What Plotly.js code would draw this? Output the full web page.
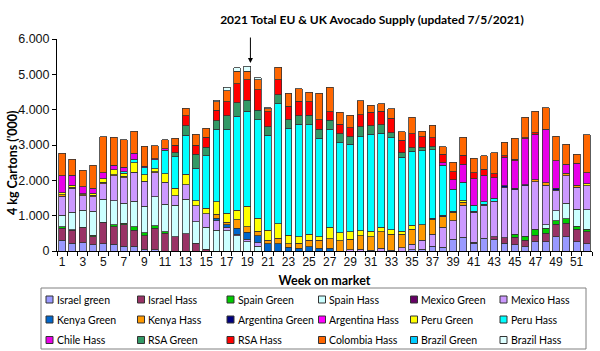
<!DOCTYPE html>
<html><head><meta charset="utf-8">
<script src="https://cdn.plot.ly/plotly-3.0.1.min.js"></script>
<style>html,body{margin:0;padding:0;background:#fff}#chart{width:600px;height:351px}</style>
</head><body><div id="chart"></div>
<script>
const weeks = [1,2,3,4,5,6,7,8,9,10,11,12,13,14,15,16,17,18,19,20,21,22,23,24,25,26,27,28,29,30,31,32,33,34,35,36,37,38,39,40,41,42,43,44,45,46,47,48,49,50,51,52];

const seriesNames = ['Israel green','Israel Hass','Spain Green','Spain Hass','Mexico Green','Mexico Hass','Kenya Green','Kenya Hass','Argentina Green','Argentina Hass','Peru Green','Peru Hass','Chile Hass','RSA Green','RSA Hass','Colombia Hass','Brazil Green','Brazil Hass'];

const israelGreen = [300,220,230,170,210,190,140,140,50,30, 0,0,0,0,0,0,0,0,0,0, 0,0,0,0,0,0,0,0,0,0, 0,0,0,0,30,50,140,100,330,390, 220,360,330,220,170,120,260,260,410,410, 260,200];
const israelHass = [340,370,430,240,590,500,600,450,380,610, 500,410,490,220,50,0,0,0,0,0, 0,0,0,0,0,0,0,0,0,0, 0,0,0,0,0,0,0,0,0,0, 30,0,70,160,220,190,190,240,350,380, 360,350];
const spainGreen = [40,10,10,30,20,50,40,100,80,70, 40,0,0,0,0,0,0,0,0,0, 0,0,0,0,0,0,0,0,0,0, 0,0,0,0,0,0,0,0,0,0, 0,0,0,0,90,110,170,140,90,120, 80,70];
const spainHass = [330,500,490,690,640,680,570,720,750,820, 780,880,970,610,620,590,570,430,260,140, 0,0,0,0,0,0,0,0,0,0, 0,0,0,0,0,0,0,0,0,0, 0,0,0,0,0,0,0,110,290,440, 480,550];
const mexicoGreen = [0,0,0,0,0,0,0,0,0,0, 0,0,0,0,0,0,0,0,0,0, 0,0,0,0,0,0,0,0,0,0, 0,0,0,0,0,0,0,0,0,0, 0,0,0,0,0,0,0,0,0,0, 0,0];
const mexicoHass = [540,680,400,410,440,710,730,800,700,690, 630,270,420,450,380,260,100,50,70,90, 0,0,0,0,0,0,0,0,30,50, 20,80,20,90,160,250,340,570,530,900, 840,940,1010,1420,1250,1420,1340,1110,580,780, 630,680];
const kenyaGreen = [0,0,0,0,0,0,0,0,0,0, 0,0,0,0,0,70,70,160,200,200, 200,200,100,80,120,80,80,0,0,0, 0,0,0,0,0,0,0,0,0,0, 0,0,0,0,0,0,0,0,0,0, 0,0];
const kenyaHass = [40,20,30,40,40,30,40,20,10,20, 0,0,0,0,0,120,80,250,160,130, 110,160,110,140,190,220,260,290,300,380, 380,470,450,390,420,440,420,300,230,90, 0,0,0,0,0,0,50,70,0,70, 50,0];
const argentinaGreen = [0,0,0,0,0,0,0,0,0,0, 0,0,0,0,0,0,0,0,0,0, 0,0,0,0,0,0,0,0,0,0, 0,0,0,0,0,0,30,40,30,0, 30,20,0,50,50,40,0,0,50,0, 0,0];
const argentinaHass = [0,0,0,0,0,0,0,0,0,0, 0,0,0,0,0,0,0,0,0,0, 0,0,0,0,0,0,0,0,0,0, 0,0,0,0,0,0,0,0,0,0, 0,0,0,0,0,0,0,0,0,0, 0,0];
const peruGreen = [60,60,30,50,100,140,80,270,190,90, 240,220,290,140,160,350,250,260,570,360, 280,410,240,190,170,110,330,230,210,140, 160,120,130,80,120,0,0,0,0,50, 0,0,0,0,0,0,0,0,0,0, 0,50];
const peruHass = [0,0,0,0,0,0,40,90,190,250, 660,890,1100,920,1490,2060,2380,2660,2690,2800, 2690,3400,3020,3180,3100,2780,2770,2550,2480,2670, 2740,2660,2600,2100,2100,2100,1930,1420,630,520, 170,80,90,0,0,0,0,0,0,0, 0,0];
const chileHass = [480,280,200,150,180,120,130,170,50,30, 40,0,0,0,0,0,0,0,0,0, 0,0,0,0,0,0,0,0,0,0, 0,0,0,0,0,0,0,70,260,510, 750,740,580,800,780,1300,1300,1520,780,250, 630,320];
const rsaGreen = [0,0,0,0,0,0,0,0,0,0, 0,110,270,400,240,240,380,390,310,260, 240,250,250,240,260,250,260,250,210,280, 250,240,140,120,90,90,90,0,0,0, 0,0,0,0,0,0,0,0,0,0, 0,0];
const rsaHass = [0,0,0,0,0,0,0,0,0,0, 0,210,290,260,280,300,400,540,580,580, 420,420,380,410,380,280,240,270,260,330, 380,380,420,350,400,300,260,240,240,250, 170,180,110,40,40,30,40,0,0,0, 0,0];
const colombiaHass = [630,460,470,650,1020,800,780,630,560,370, 260,200,210,310,250,240,300,350,250,290, 80,360,360,350,280,740,690,330,350,400, 190,220,270,250,470,160,350,210,260,510, 410,380,590,390,590,570,610,610,700,570, 250,1070];
const brazilGreen = [0,0,0,0,0,0,0,0,0,0, 0,0,0,0,0,0,0,0,0,0, 0,0,0,0,0,0,0,0,0,0, 0,0,0,0,0,0,0,0,0,0, 0,0,0,0,0,0,0,0,0,0, 0,0];
const brazilHass = [0,0,0,0,0,0,0,0,0,0, 0,0,0,0,0,30,100,90,140,50, 40,0,0,0,0,0,0,0,0,0, 0,0,0,0,0,0,0,0,0,0, 0,0,0,0,0,0,0,0,0,0, 0,0];

const seriesValues = [israelGreen, israelHass, spainGreen, spainHass, mexicoGreen, mexicoHass, kenyaGreen, kenyaHass, argentinaGreen, argentinaHass, peruGreen, peruHass, chileHass, rsaGreen, rsaHass, colombiaHass, brazilGreen, brazilHass];

const colors = ['#9999FF','#993366','#00CC00','#CCFFFF','#660066','#CC99FF','#0066CC','#FF9900','#000080','#FF00FF','#FFFF00','#00FFFF','#E800E8','#339966','#FF0000','#FF6600','#00CCFF','#DDFFFF'];

const traces = seriesNames.map((name, i) => ({
  type: 'bar',
  name: name,
  x: weeks,
  y: seriesValues[i].map(v => v === 0 ? null : v),
  marker: {color: colors[i], line: {color: '#333333', width: 0.8}},
  hoverinfo: 'name+y',
  showlegend: false
}));

const oddWeeks = weeks.filter(w => w % 2 === 1);
const boundaries = weeks.map(w => w - 0.5).concat([weeks[weeks.length - 1] + 0.5]);

// plot-area geometry (pixels) for converting legend placement to paper coords
const M = {l: 57, r: 8, t: 39, b: 100};
const W = 600, H = 351;
const pw = W - M.l - M.r, ph = H - M.t - M.b;
const px = x => (x - M.l) / pw;
const py = y => (H - M.b - y) / ph;

const shapes = [{
  type: 'rect', xref: 'paper', yref: 'paper',
  x0: px(41), x1: px(586), y0: py(349), y1: py(288),
  line: {color: '#808080', width: 1}, fillcolor: 'rgba(0,0,0,0)', layer: 'above'
}];
const annotations = [{
  x: 19.3, y: 5320, xref: 'x', yref: 'y', ax: 0, ay: -27,
  text: '', showarrow: true, arrowhead: 2, arrowsize: 1, arrowwidth: 1, arrowcolor: '#000'
}, {
  x: px(12), y: py(163), xref: 'paper', yref: 'paper', textangle: -90,
  text: "<b>4 kg Cartons ('000)</b>", showarrow: false,
  font: {family: 'Lato', size: 12.5, color: '#000'}, xanchor: 'center', yanchor: 'middle'
}];

const colX = [46, 137.5, 227, 318.5, 410.5, 500];
const rowY = [299.5, 319.5, 340];
seriesNames.forEach((name, i) => {
  const c = i % 6, r = Math.floor(i / 6);
  const sx = colX[c], sy = rowY[r];
  shapes.push({
    type: 'rect', xref: 'paper', yref: 'paper',
    x0: px(sx), x1: px(sx + 7), y0: py(sy + 3.5), y1: py(sy - 3.5),
    fillcolor: colors[i], line: {color: '#333333', width: 1}, layer: 'above'
  });
  annotations.push({
    x: px(sx + 8.5), y: py(sy), xref: 'paper', yref: 'paper',
    text: name, showarrow: false, xanchor: 'left', yanchor: 'middle',
    font: {family: 'Lato', size: 10.5, color: '#000'}
  });
});

const layout = {
  width: W, height: H,
  margin: {l: M.l, r: M.r, t: M.t, b: M.b, autoexpand: false},
  barmode: 'stack',
  bargap: 0.33,
  separators: ',.',
  paper_bgcolor: '#ffffff',
  plot_bgcolor: '#ffffff',
  showlegend: false,
  title: {
    text: '<b>2021 Total EU & UK Avocado Supply (updated 7/5/2021)</b>',
    font: {family: 'Lato', size: 12, color: '#000'},
    x: 0.62, xanchor: 'center', xref: 'container',
    y: 0.945, yanchor: 'middle', yref: 'container'
  },
  xaxis: {
    range: [0.5, 52.5],
    tickmode: 'array', tickvals: oddWeeks, ticktext: oddWeeks.map(String),
    ticks: '', showline: true, linecolor: '#000', linewidth: 1,
    showgrid: false, zeroline: false,
    tickfont: {family: 'Liberation Sans', size: 12, color: '#111'},
    minor: {tickmode: 'array', tickvals: boundaries, ticks: 'outside', ticklen: 4, tickcolor: '#000', tickwidth: 1, showgrid: false},
    title: {text: '<b>Week on market</b>', font: {family: 'Lato', size: 12.5, color: '#000'}, standoff: 7}
  },
  yaxis: {
    range: [0, 6000], dtick: 1000, tickformat: ',d',
    ticks: 'outside', ticklen: 4, tickcolor: '#000',
    showline: true, linecolor: '#000', linewidth: 1,
    showgrid: false, zeroline: false,
    tickfont: {family: 'Liberation Sans', size: 12.5, color: '#111'}
  },
  shapes: shapes,
  annotations: annotations
};

Plotly.newPlot('chart', traces, layout, {displayModeBar: false, staticPlot: true});
</script>
</body></html>
